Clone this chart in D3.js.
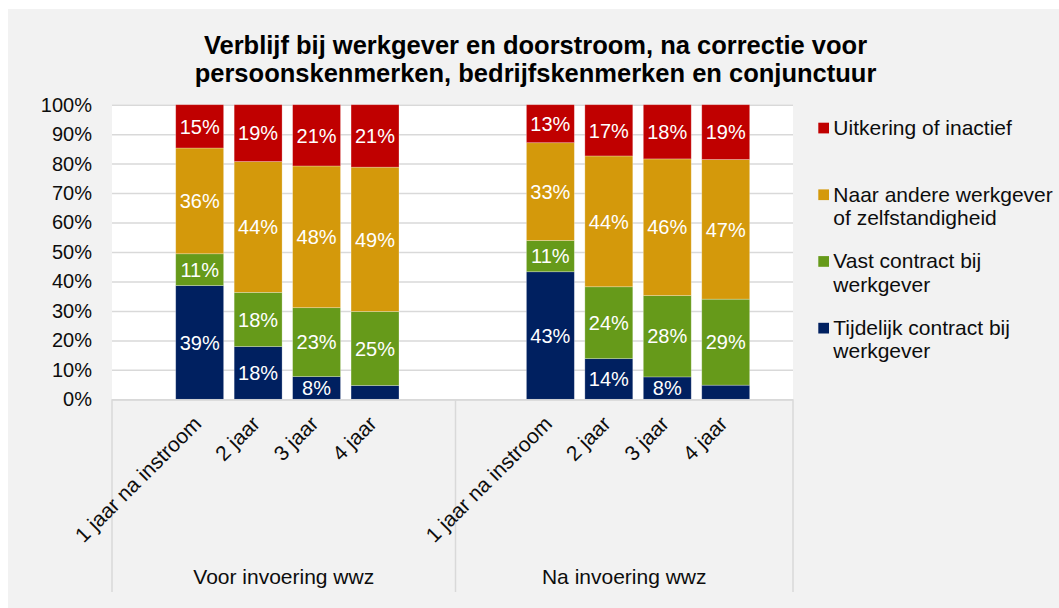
<!DOCTYPE html>
<html><head><meta charset="utf-8">
<script src="https://cdn.jsdelivr.net/npm/d3@7"></script>
<style>
body{margin:0;background:#fff;}
svg{display:block;font-family:"Liberation Sans",Arial,sans-serif;}
</style>
</head><body>
<svg id="chart" width="1059" height="608"></svg>
<script>
// ---- data ----
const groups = ["Voor invoering wwz", "Na invoering wwz"];
const periods = ["1 jaar na instroom", "2 jaar", "3 jaar", "4 jaar"];
const seriesKeys = ["tijdelijk", "vast", "naarAndere", "uitkering"];
const tijdelijk  = [38.6, 17.9, 7.7, 4.7, 43.3, 13.8, 7.6, 4.8];
const vast       = [10.8, 18.4, 23.4, 25.1, 10.6, 24.4, 27.6, 29.2];
const naarAndere = [35.9, 44.4, 48.1, 49.0, 33.2, 44.4, 46.4, 47.4];
const uitkering  = [14.7, 19.3, 20.8, 21.2, 12.9, 17.4, 18.4, 18.6];
const yTicks = [0, 10, 20, 30, 40, 50, 60, 70, 80, 90, 100];
const legendLines = [
  ["Uitkering of inactief"],
  ["Naar andere werkgever", "of zelfstandigheid"],
  ["Vast contract bij", "werkgever"],
  ["Tijdelijk contract bij", "werkgever"]
];
const legendKeys = ["uitkering", "naarAndere", "vast", "tijdelijk"];
const titleLines = [
  "Verblijf bij werkgever en doorstroom, na correctie voor",
  "persoonskenmerken, bedrijfskenmerken en conjunctuur"
];

// ---- layout ----
const W = 1059, H = 608;
const plotL = 112, plotR = 793, plotT = 104.7, plotB = 399.3;
const step = 58.45;
const colors = {tijdelijk: "#002060", vast: "#669a1a", naarAndere: "#d4990b", uitkering: "#c00000"};

const svg = d3.select("#chart");
svg.append("rect").attr("x", 8).attr("y", 9).attr("width", W - 8).attr("height", H - 9).attr("fill", "#f2f2f2");

// title
svg.append("g").selectAll("text").data(titleLines).join("text")
  .attr("x", 535.5).attr("y", (d, i) => 53.5 + i * 28)
  .attr("text-anchor", "middle").attr("font-weight", "bold").attr("font-size", "25.5px").attr("fill", "#000")
  .text(d => d);

// rows
const rows = [];
groups.forEach((g, gi) => periods.forEach((p, pi) => {
  const idx = gi * periods.length + pi;
  rows.push({key: g + "|" + p, group: g, period: p,
    tijdelijk: tijdelijk[idx], vast: vast[idx], naarAndere: naarAndere[idx], uitkering: uitkering[idx]});
}));

// x domain with padding slots per group
const slots = [];
groups.forEach(g => {
  slots.push(g + "|pad0");
  periods.forEach(p => slots.push(g + "|" + p));
  slots.push(g + "|pad1");
});
const x = d3.scaleBand().domain(slots).range([plotL, plotL + slots.length * step])
  .paddingInner(0.18).paddingOuter(0.09);
const xg = d3.scaleBand().domain(groups).range([plotL + 6, plotR]);
const y = d3.scaleLinear().domain([0, 100]).range([plotB, plotT]);

// plot area
svg.append("rect").attr("x", plotL).attr("y", plotT).attr("width", plotR - plotL).attr("height", plotB - plotT).attr("fill", "#fff");

// gridlines
const yAxis = d3.axisLeft(y).tickValues(yTicks).tickSize(-(plotR - plotL)).tickFormat(d => d + "%");
const gy = svg.append("g").attr("transform", `translate(${plotL},0)`).call(yAxis);
gy.select(".domain").remove();
gy.selectAll(".tick line").attr("stroke", "#d9d9d9").attr("stroke-width", 1.5);
gy.selectAll(".tick text").attr("x", -20).attr("font-size", "20px").attr("fill", "#0d0d0d")
  .attr("font-family", "Liberation Sans, Arial, sans-serif");

// stacks
const stack = d3.stack().keys(seriesKeys);
const stacked = stack(rows);
const layers = svg.append("g").selectAll("g").data(stacked).join("g").attr("fill", d => colors[d.key]);
layers.selectAll("rect").data(d => d).join("rect")
  .attr("x", d => x(d.data.key)).attr("width", x.bandwidth())
  .attr("y", d => y(d[1])).attr("height", d => y(d[0]) - y(d[1]))
  .attr("stroke", "rgba(255,255,255,0.35)").attr("stroke-width", 0.75);

// labels
const lab = svg.append("g").attr("font-size", "20px").attr("fill", "#fff").attr("text-anchor", "middle");
stacked.forEach(layer => {
  layer.forEach(d => {
    const v = d[1] - d[0];
    if (v < 6) return;
    lab.append("text")
      .attr("x", x(d.data.key) + x.bandwidth() / 2)
      .attr("y", (y(d[0]) + y(d[1])) / 2)
      .attr("dy", "0.36em")
      .text(Math.round(v) + "%");
  });
});

// category axis lines
const axisC = "#d9d9d9";
svg.append("line").attr("x1", plotL).attr("x2", plotR).attr("y1", plotB + 0.75).attr("y2", plotB + 0.75)
  .attr("stroke", axisC).attr("stroke-width", 1.5);
const bounds = [plotL, xg(groups[1]), xg(groups[1]) + xg.bandwidth()];
svg.append("g").selectAll("line").data(bounds).join("line")
  .attr("x1", d => d).attr("x2", d => d).attr("y1", plotB).attr("y2", 592)
  .attr("stroke", axisC).attr("stroke-width", 1.5);

// period labels
svg.append("g").selectAll("text").data(rows).join("text")
  .attr("transform", d => `translate(${x(d.key) + x.bandwidth() / 2 + 3},425) rotate(-45)`)
  .attr("text-anchor", "end").attr("font-size", "21px").attr("fill", "#0d0d0d")
  .text(d => d.period);

// group labels
svg.append("g").selectAll("text").data(groups).join("text")
  .attr("x", (d, i) => ((i === 0 ? plotL : xg(d)) + xg(d) + xg.bandwidth()) / 2).attr("y", 584)
  .attr("text-anchor", "middle").attr("font-size", "21px").attr("fill", "#0d0d0d")
  .text(d => d);

// legend
const lg = svg.append("g");
legendKeys.forEach((k, i) => {
  const by = 135 + i * 66.7;
  lg.append("rect").attr("x", 818.3).attr("y", by - 12.3).attr("width", 10.7).attr("height", 10.7).attr("fill", colors[k]);
  legendLines[i].forEach((t, j) => {
    lg.append("text").attr("x", 833.3).attr("y", by + j * 23.3).attr("font-size", "21px").attr("fill", "#0d0d0d").text(t);
  });
});
</script>
</body></html>
